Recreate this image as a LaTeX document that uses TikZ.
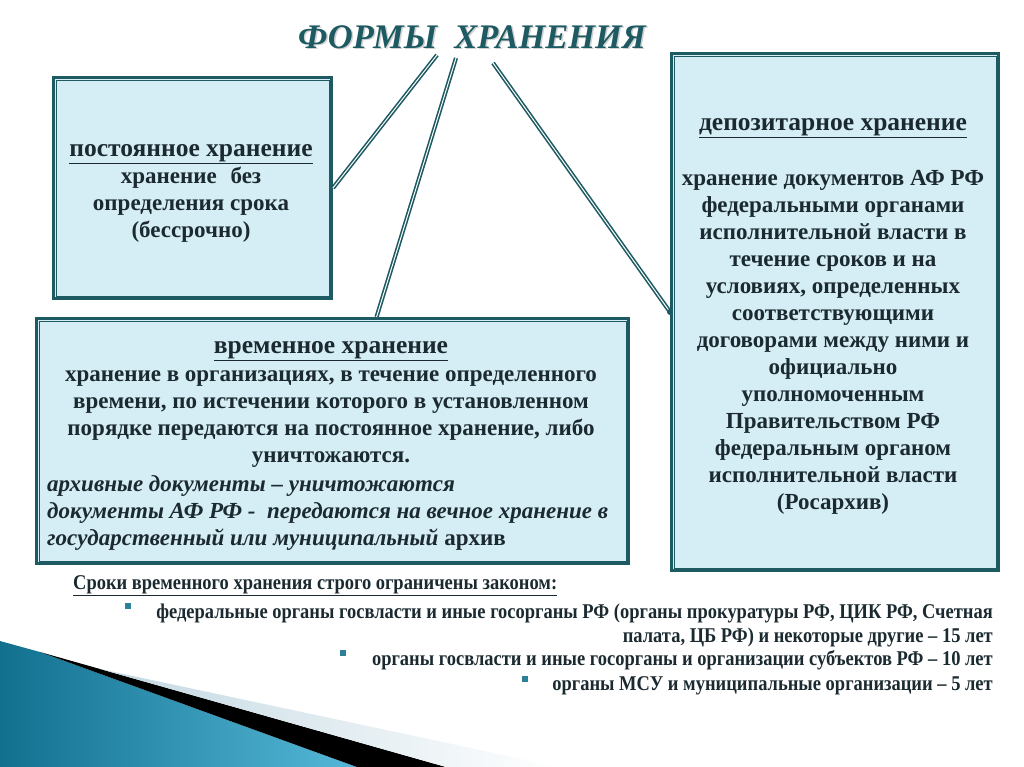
\documentclass[tikz,border=0pt]{standalone}
\usepackage{fontspec}
\setmainfont{Liberation Serif}
\newfontfamily\serifb[Ligatures=TeX]{Liberation Serif}
\newfontfamily\narrowf[FakeStretch=0.88,Ligatures=TeX]{Liberation Serif}
\usetikzlibrary{calc}
\definecolor{teal1}{HTML}{1E5A62}
\definecolor{boxfill}{HTML}{D5EDF4}
\definecolor{txt}{HTML}{1B2A30}
\definecolor{bul}{HTML}{2E7F98}
\definecolor{blueL}{HTML}{12708F}
\definecolor{blueR}{HTML}{55B8D8}
\definecolor{stripe}{HTML}{C3D8E2}
\newcommand{\hd}[1]{{\fontsize{25.5}{27}\selectfont\underline{#1}}}
\begin{document}
\begin{tikzpicture}[x=1pt,y=-1pt,
  box/.style={draw=teal1, line width=3pt, fill=boxfill, inner sep=0pt, anchor=north west},
  conn/.style={draw=teal1, line width=1.6pt, double=white, double distance=1pt},
  btxt/.style={text=txt, font=\serifb\bfseries\fontsize{23}{27}\selectfont, align=center, inner sep=0pt},
  itxt/.style={text=txt, font=\serifb\bfseries\itshape\fontsize{23}{27}\selectfont, align=left, inner sep=0pt, anchor=west},
  ntxt/.style={text=txt, font=\narrowf\bfseries\fontsize{21}{24}\selectfont, inner sep=0pt},
  ttl/.style={font=\serifb\bfseries\itshape\fontsize{34.5}{36}\selectfont},
  bullet/.style={fill=bul, minimum size=6pt, inner sep=0pt}]
\useasboundingbox (0,0) rectangle (1024,767);
% bottom-left decoration
\shade[left color=blueL, right color=blueR] (0,641) -- (40,652) -- (357,767) -- (0,767) -- cycle;
\fill[black] (40,652) -- (446,767) -- (357,767) -- cycle;
\shade[left color=stripe, right color=white] (100,669) -- (560,767) -- (446,767) -- cycle;
% title
\node[text=gray!35, ttl] at (473.5,38.5) {ФОРМЫ\ \ ХРАНЕНИЯ};
\node[text=teal1, ttl] (title) at (472,37) {ФОРМЫ\ \ ХРАНЕНИЯ};
% boxes
\node[box, minimum width=278pt, minimum height=221pt] (perm) at (52,76) {};
\node[box, minimum width=592pt, minimum height=245pt] (temp) at (35,317) {};
\node[box, minimum width=327pt, minimum height=517pt] (dep) at (670,52) {};
\foreach \n in {perm,temp,dep}
  \draw[teal1, line width=0.9pt] ($(\n.north west)+(4,4)$) rectangle ($(\n.south east)+(-4,-4)$);
% connectors
\coordinate (t1) at (437,55);
\coordinate (t2) at (456,58);
\coordinate (t3) at (493,63);
\coordinate (m2) at ($(temp.north west)!0.574!(temp.north east)$);
\draw[conn] (t1) -- (perm.east);
\draw[conn] (t2) -- (m2);
\draw[conn] (t3) -- (dep.west);
\fill[teal1] (dep.west) circle (3pt);
% texts
\node[btxt] (permt) at (191,193) {\hd{постоянное хранение}\\хранение\hspace{0.6em}без\\определения срока\\(бессрочно)};
\node[btxt] (dept) at (833,316) {\hd{депозитарное хранение}\\[28pt]хранение документов АФ РФ\\федеральными органами\\исполнительной власти в\\течение сроков и на\\условиях, определенных\\соответствующими\\договорами между ними и\\официально\\уполномоченным\\Правительством РФ\\федеральным органом\\исполнительной власти\\(Росархив)};
\node[btxt] (tempt) at (331,404) {\hd{временное хранение}\\[1pt]хранение в организациях, в течение определенного\\времени, по истечении которого в установленном\\порядке передаются на постоянное хранение, либо\\уничтожаются.};
\node[itxt] (tempi) at (47,513) {архивные документы – уничтожаются\\документы АФ РФ -\ \ передаются на вечное хранение в\\государственный или муниципальный {\upshape архив}};
% bottom list
\node[ntxt, anchor=west] (head) at (73,586) {\underline{Сроки временного хранения строго ограничены законом:}};
\node[bullet] (b1) at (128,606) {};
\node[ntxt, anchor=east] (l1) at (993,613) {федеральные органы госвласти и иные госорганы РФ (органы прокуратуры РФ, ЦИК РФ, Счетная};
\node[ntxt, anchor=east] (l1b) at (993,637) {палата, ЦБ РФ) и некоторые другие – 15 лет};
\node[bullet] (b2) at (343,653) {};
\node[ntxt, anchor=east] (l2) at (993,660) {органы госвласти и иные госорганы и организации субъектов РФ – 10 лет};
\node[bullet] (b3) at (525,679) {};
\node[ntxt, anchor=east] (l3) at (993,686) {органы МСУ и муниципальные организации – 5 лет};
\end{tikzpicture}
\end{document}
